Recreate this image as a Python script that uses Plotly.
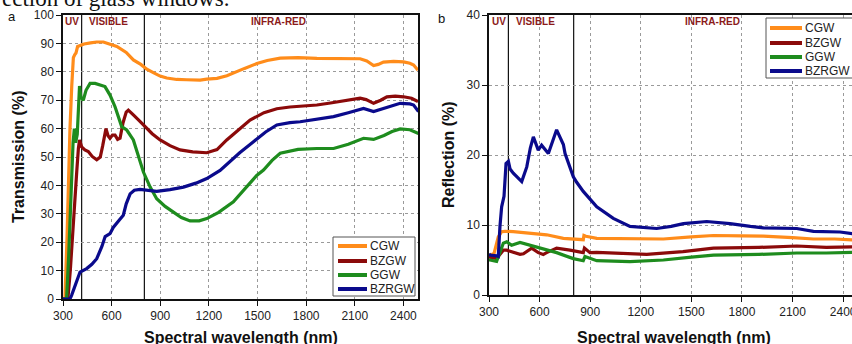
import plotly.graph_objects as go

W, H = 860, 344   # figure continues a few px past the 852 px window, as the reference is cropped

# ---------------- data: (a) transmission ----------------
t_cgw_x = [300, 312, 325, 335, 343, 354, 364, 372, 380, 390, 410, 430, 470, 508, 549, 590, 632, 690, 734, 780, 817, 860, 899, 940, 1002, 1063, 1146, 1187, 1250, 1311, 1351, 1420, 1496, 1560, 1640, 1750, 1866, 1950, 2050, 2133, 2174, 2216, 2245, 2277, 2340, 2401, 2440, 2463, 2490]
t_cgw_y = [0, 0, 22, 45, 60, 75, 85, 86, 86.6, 88.9, 89.4, 89.8, 90.2, 90.5, 90.5, 89.8, 88.9, 86.8, 84.2, 82.6, 80.9, 79.6, 78.5, 77.8, 77.3, 77.2, 77.1, 77.4, 77.7, 78.6, 79.6, 81.2, 82.9, 84.0, 84.8, 85.0, 84.7, 84.6, 84.6, 84.6, 83.8, 82.2, 82.6, 83.4, 83.7, 83.5, 83.0, 82.4, 80.6]

t_bzgw_x = [300, 330, 345, 360, 375, 385, 395, 402, 415, 435, 456, 480, 508, 530, 545, 565, 578, 590, 605, 621, 637, 652, 670, 690, 703, 720, 734, 770, 806, 850, 899, 960, 1022, 1100, 1187, 1250, 1310, 1380, 1454, 1540, 1619, 1700, 1866, 1950, 2050, 2133, 2170, 2216, 2260, 2298, 2350, 2401, 2450, 2490]
t_bzgw_y = [0, 0, 10, 25, 38, 45, 53, 56, 53.6, 52.5, 51.9, 50.2, 49, 50, 54, 60, 57.5, 56.6, 57.7, 57.7, 56.2, 56.6, 62, 65.8, 66.5, 65.7, 64.8, 62.8, 60.7, 58.2, 56, 54, 52.5, 51.8, 51.5, 52.6, 56, 59.5, 63, 65.6, 67, 67.6, 68.3, 69, 70, 70.7, 70.2, 68.9, 70, 71.2, 71.4, 71.2, 70.7, 69.5]

t_ggw_x = [300, 322, 335, 350, 362, 370, 378, 388, 395, 402, 410, 425, 442, 467, 498, 529, 559, 590, 621, 662, 693, 734, 765, 796, 837, 878, 930, 981, 1030, 1084, 1140, 1187, 1260, 1351, 1420, 1495, 1537, 1590, 1640, 1750, 1866, 1969, 2060, 2154, 2216, 2280, 2330, 2380, 2440, 2493]
t_ggw_y = [0, 0, 15, 40, 55, 60, 55, 58, 70, 75, 71, 70, 73.5, 75.9, 75.9, 75.3, 74.8, 71.8, 67.7, 60.7, 59.5, 56, 50, 44.7, 39.5, 35.3, 32.6, 30.6, 28.7, 27.5, 27.5, 28.3, 30.5, 34.2, 38.5, 43.5, 45.4, 48.8, 51.3, 52.7, 53, 53, 54.5, 56.6, 56.2, 57.6, 59, 59.9, 59.6, 58.3]

t_bzrgw_x = [300, 343, 353, 374, 405, 446, 478, 508, 540, 560, 570, 590, 610, 631, 650, 672, 690, 714, 740, 775, 830, 878, 960, 1043, 1120, 1187, 1269, 1310, 1390, 1475, 1550, 1619, 1700, 1763, 1870, 1969, 2060, 2154, 2216, 2300, 2380, 2440, 2463, 2493]
t_bzrgw_y = [0, 0, 1.3, 4.8, 9.5, 10.7, 12.2, 14.2, 18.5, 22, 22.4, 23, 25.2, 26.5, 28, 29.5, 33.5, 37, 38.3, 38.6, 38.3, 37.9, 38.5, 39.4, 40.8, 42.4, 45.3, 47.5, 51.5, 55.4, 58.8, 61.3, 62.1, 62.4, 63.3, 64.2, 65.6, 67.1, 66, 67.6, 68.9, 68.7, 68.3, 66]

# ---------------- data: (b) reflection ----------------
r_cgw_x = [300, 306, 330, 355, 375, 395, 444, 543, 642, 741, 840, 859, 863, 875, 939, 1136, 1334, 1500, 1631, 1800, 1927, 2100, 2224, 2350, 2453, 2500]
r_cgw_y = [5.7, 5.7, 5.95, 8.3, 9.05, 9.1, 9.05, 8.8, 8.6, 8.1, 7.95, 7.9, 8.5, 8.4, 8.1, 8.05, 8.0, 8.3, 8.5, 8.45, 8.4, 8.2, 8.0, 8.0, 7.8, 7.8]

r_bzgw_x = [300, 306, 345, 385, 405, 444, 484, 504, 553, 592, 622, 642, 701, 780, 850, 859, 866, 899, 939, 1136, 1235, 1450, 1631, 1900, 2125, 2300, 2453, 2500]
r_bzgw_y = [5.5, 5.4, 5.2, 6.4, 6.4, 6.05, 5.8, 5.9, 6.7, 6.05, 5.8, 6.05, 6.7, 6.4, 6.0, 6.05, 6.7, 6.05, 6.1, 5.9, 5.8, 6.2, 6.7, 6.8, 7.0, 6.8, 6.9, 6.9]

r_ggw_x = [300, 306, 345, 385, 405, 434, 484, 543, 592, 701, 800, 850, 859, 869, 939, 1136, 1334, 1500, 1631, 1900, 2125, 2300, 2453, 2500]
r_ggw_y = [5.0, 5.0, 4.8, 7.4, 7.6, 7.1, 7.5, 7.1, 6.7, 6.05, 5.2, 5.0, 4.9, 5.5, 4.9, 4.76, 5.0, 5.4, 5.7, 5.8, 6.0, 6.0, 6.1, 6.1]

r_bzrgw_x = [300, 306, 345, 355, 365, 375, 389, 401, 415, 425, 444, 494, 524, 545, 563, 592, 612, 652, 701, 741, 751, 800, 820, 859, 939, 1037, 1136, 1196, 1294, 1380, 1453, 1591, 1729, 1850, 1927, 2125, 2224, 2382, 2453, 2500]
r_bzrgw_y = [5.9, 5.7, 5.6, 5.5, 9.8, 12.6, 14.1, 18.8, 19.1, 18.0, 17.4, 16.2, 18.3, 21, 22.6, 20.7, 21.4, 20.2, 23.6, 21.5, 20.2, 16.9, 16.1, 14.8, 12.6, 10.95, 9.8, 9.7, 9.5, 9.8, 10.2, 10.5, 10.2, 9.8, 9.6, 9.5, 9.1, 9.0, 8.7, 8.6]

series_names = ["CGW", "BZGW", "GGW", "BZRGW"]
series_colors = ["#FF8C1A", "#8B0A0A", "#1E8C1E", "#0A0A8C"]
x_ticks = [300, 600, 900, 1200, 1500, 1800, 2100, 2400]
region_labels = ["UV", "VISIBLE", "INFRA-RED"]
region_label_x = [357, 578, 1628]
region_bounds = [415, 802]

trans = [(t_cgw_x, t_cgw_y), (t_bzgw_x, t_bzgw_y), (t_ggw_x, t_ggw_y), (t_bzrgw_x, t_bzrgw_y)]
refl = [(r_cgw_x, r_cgw_y), (r_bzgw_x, r_bzgw_y), (r_ggw_x, r_ggw_y), (r_bzrgw_x, r_bzrgw_y)]


def px(x):
    return x / W


def py(y):
    return 1 - y / H


FONT = "Liberation Sans, Arial, sans-serif"

fig = go.Figure()
for (xs, ys), name, col in zip(trans, series_names, series_colors):
    fig.add_trace(go.Scatter(x=xs, y=ys, mode="lines", name=name, line=dict(color=col, width=3.2),
                             xaxis="x", yaxis="y", showlegend=False))
for (xs, ys), name, col in zip(refl, series_names, series_colors):
    fig.add_trace(go.Scatter(x=xs, y=ys, mode="lines", name=name, line=dict(color=col, width=3.2),
                             xaxis="x2", yaxis="y2", showlegend=False))

axis_common = dict(showline=True, linecolor="#111", linewidth=1.5, ticks="outside", ticklen=5,
                   tickcolor="#111", showgrid=True, gridcolor="#9a9a9a", griddash="dot", gridwidth=1,
                   zeroline=False, automargin=False, layer="below traces",
                   tickfont=dict(family=FONT, size=12, color="#222"))

fig.update_layout(
    template="none",
    width=W, height=H, margin=dict(l=0, r=0, t=0, b=0, autoexpand=False),
    paper_bgcolor="white", plot_bgcolor="white",
    xaxis=dict(domain=[px(63), px(418)], range=[300, 2490], tickvals=x_ticks, mirror=True, anchor="y", **axis_common),
    yaxis=dict(domain=[py(299), py(15)], range=[0, 100], dtick=10, mirror=True, anchor="x", **axis_common),
    xaxis2=dict(domain=[px(489), 1.0], range=[300, 2500], tickvals=x_ticks, mirror=True, anchor="y2", **axis_common),
    yaxis2=dict(domain=[py(295), py(15)], range=[0, 40], dtick=10, mirror=True, anchor="x2", **axis_common),
    showlegend=False,
)

shapes = []
ann = []
for xr, yr in [("x", "y domain"), ("x2", "y2 domain")]:
    for b in region_bounds:
        shapes.append(dict(type="line", xref=xr, yref=yr, x0=b, x1=b, y0=0, y1=1, layer="below",
                           line=dict(color="#111", width=1.2)))

# legend boxes (drawn in paper pixel positions)
legend_boxes = [
    dict(x0=333, x1=415, y0=237, y1=296, rows=[246, 261, 275, 289], lx0=338, lx1=367, tx=368),
    dict(x0=766, x1=857, y0=18, y1=78, rows=[28, 43, 57, 71], lx0=770, lx1=802, tx=803),
]
for lb in legend_boxes:
    shapes.append(dict(type="rect", xref="paper", yref="paper", x0=px(lb["x0"]), x1=px(lb["x1"]),
                       y0=py(lb["y1"]), y1=py(lb["y0"]), fillcolor="white",
                       line=dict(color="#555", width=1), layer="above"))
    for name, col, ry in zip(series_names, series_colors, lb["rows"]):
        shapes.append(dict(type="line", xref="paper", yref="paper", x0=px(lb["lx0"]), x1=px(lb["lx1"]),
                           y0=py(ry), y1=py(ry), line=dict(color=col, width=4), layer="above"))
        ann.append(dict(text=name, xref="paper", yref="paper", x=px(lb["tx"]), y=py(ry), xanchor="left",
                        yanchor="middle", showarrow=False, font=dict(family=FONT, size=12, color="#222")))
fig.update_layout(shapes=shapes)

for xr in ["x", "x2"]:
    for lab, lx in zip(region_labels, region_label_x):
        ann.append(dict(text=f"<b>{lab}</b>", xref=xr, x=lx, yref="paper", y=py(21), showarrow=False,
                        font=dict(family=FONT, size=10, color="#8B1A1A"), xanchor="center", yanchor="middle"))


def text_at(text, x, y, size, angle=0, family=FONT, xanchor="center"):
    ann.append(dict(text=text, xref="paper", yref="paper", x=px(x), y=py(y), textangle=angle,
                    xanchor=xanchor, yanchor="middle", showarrow=False,
                    font=dict(family=family, size=size, color="#111")))


# panel letters
text_at("a", 11.5, 16.5, 13)
text_at("b", 441, 19, 13)
# axis titles
text_at("<b>Transmission (%)</b>", 19, 157, 16, angle=-90)
text_at("<b>Reflection (%)</b>", 448, 155, 16, angle=-90)
text_at("<b>Spectral wavelength (nm)</b>", 240.5, 337, 16)
text_at("<b>Spectral wavelength (nm)</b>", 674, 337, 16)
# cropped caption text from the page above the figure
text_at("ection of glass windows.", 0, -1, 23, family="Liberation Serif, Times New Roman, serif", xanchor="left")
fig.update_layout(annotations=ann)

fig.write_html("out.html", config={"displayModeBar": False},
               post_script="document.body.style.margin='0';document.body.style.overflow='hidden';"
                           "document.documentElement.style.overflow='hidden';")
